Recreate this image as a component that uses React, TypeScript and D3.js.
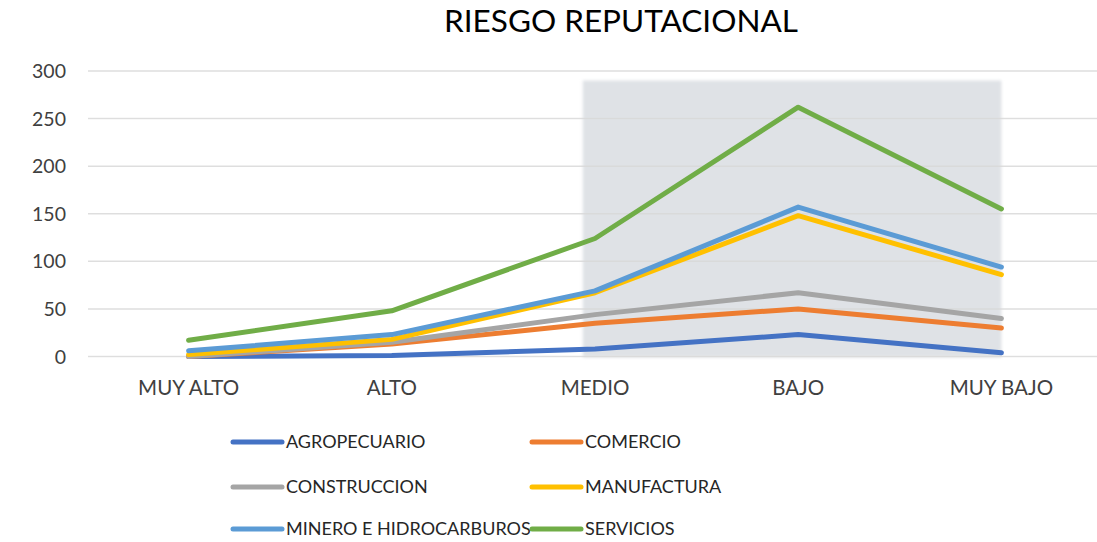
import * as d3 from 'd3';

const categories = ['MUY ALTO', 'ALTO', 'MEDIO', 'BAJO', 'MUY BAJO'];
const yTicks = [0, 50, 100, 150, 200, 250, 300];

const agropecuario = [0, 1, 8, 23, 4];
const comercio = [0, 13, 35, 50, 30];
const construccion = [0, 15, 44, 67, 40];
const manufactura = [2, 18, 67, 148, 86];
const minero = [6, 23, 69, 157, 94];
const servicios = [17, 48, 124, 262, 155];

const seriesNames = [
  'AGROPECUARIO',
  'COMERCIO',
  'CONSTRUCCION',
  'MANUFACTURA',
  'MINERO E HIDROCARBUROS',
  'SERVICIOS',
];
const seriesColors = ['#4472C4', '#ED7D31', '#A5A5A5', '#FFC000', '#5B9BD5', '#70AD47'];

// highlighted zone (categories + top value)
const shadeFrom = 'MEDIO';
const shadeTo = 'MUY BAJO';
const shadeTop = 290;

const width = 1097;
const height = 542;
const font = 'Lato, "Open Sans", sans-serif';

export default function App() {
  const series = [agropecuario, comercio, construccion, manufactura, minero, servicios].map(
    (values, i) => ({ name: seriesNames[i], color: seriesColors[i], values })
  );

  const x = d3.scalePoint().domain(categories).range([87, 1103]).padding(0.5);
  const y = d3.scaleLinear().domain([0, 300]).range([356.5, 71]);
  const step = x.step();

  const line = d3
    .line<number>()
    .x((_, i) => x(categories[i]) as number)
    .y((d) => y(d));

  const shadeX1 = (x(shadeFrom) as number) - step * 0.06;
  const shadeX2 = x(shadeTo) as number;

  const legendCols = [233, 532];
  const legendRows = [442, 487, 529];

  return (
    <svg
      width={width}
      height={height}
      style={{ position: 'absolute', left: 0, top: 0, background: '#fff' }}
      fontFamily={font}
    >
      <defs>
        <filter id="soft" x="-5%" y="-5%" width="110%" height="110%">
          <feGaussianBlur stdDeviation="1.5" />
        </filter>
      </defs>

      <text x={621} y={32} textAnchor="middle" fontSize={31.5} fill="#000">
        RIESGO REPUTACIONAL
      </text>

      <rect
        x={shadeX1}
        y={y(shadeTop)}
        width={shadeX2 - shadeX1}
        height={y(0) - y(shadeTop) + 1}
        fill="#DFE2E6"
        filter="url(#soft)"
      />

      <g>
        {yTicks.map((t) => (
          <g key={t}>
            <line x1={88} x2={1097} y1={y(t)} y2={y(t)} stroke="#D9D9D9" strokeWidth={1.5} opacity={0.85} />
            <text x={66} y={y(t)} dy="0.36em" textAnchor="end" fontSize={19.5} fill="#404040">
              {t}
            </text>
          </g>
        ))}
      </g>

      {categories.map((c) => (
        <text key={c} x={x(c)} y={395} textAnchor="middle" fontSize={20.5} fill="#404040">
          {c}
        </text>
      ))}

      {series.map((s) => (
        <path
          key={s.name}
          d={line(s.values) ?? ''}
          fill="none"
          stroke={s.color}
          strokeWidth={5}
          strokeLinejoin="round"
          strokeLinecap="round"
        />
      ))}

      {series.map((s, i) => {
        const lx = legendCols[i % 2];
        const ly = legendRows[Math.floor(i / 2)];
        return (
          <g key={s.name} transform={`translate(${lx},${ly})`}>
            <line x1={0} x2={49} y1={0} y2={0} stroke={s.color} strokeWidth={5} strokeLinecap="round" />
            <text x={53} y={0} dy="0.36em" fontSize={18} fill="#262626">
              {s.name}
            </text>
          </g>
        );
      })}
    </svg>
  );
}
